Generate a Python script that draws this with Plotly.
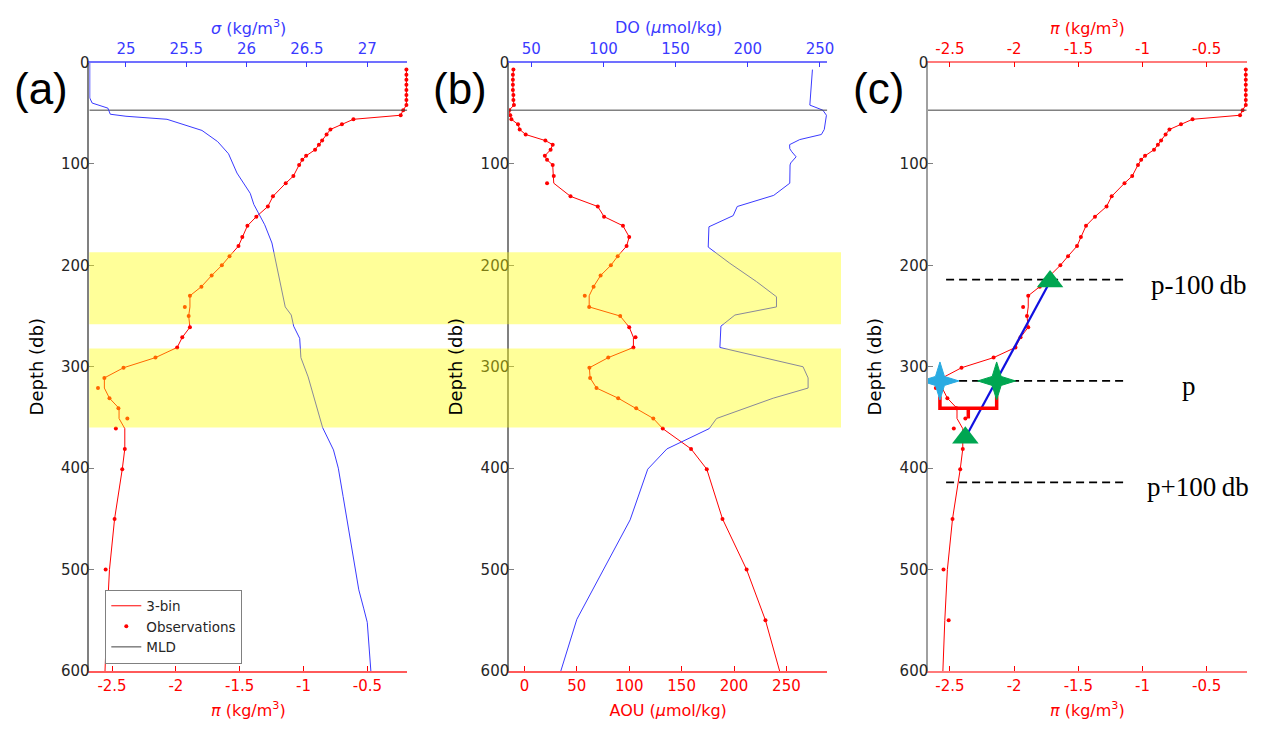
#!/usr/bin/env python3
"""
Three-panel float profile: spiciness/density, AOU/DO, and the p +/- 100 db slope sketch
"""

import plotly.graph_objects as go

# the page body keeps the browser's 8px margin, so the figure is drawn 8px smaller
W, H = 1263, 735
PAD = 8
FW, FH = W - PAD, H - PAD

# shared observation depths (db)
depth = [7, 12, 17, 22, 27, 32, 37, 42, 47, 52, 56, 61, 66, 71, 77, 81, 86, 92, 96, 101,
         112, 119, 132, 142, 152, 161, 172, 181, 191, 200, 210, 221, 230, 241, 250, 261,
         271, 281, 291, 301, 311, 321, 331, 341, 351, 361, 381, 401, 450, 500, 550]

# spiciness pi (kg/m3): observations and 3-bin smoothed line
pi_obs = [-0.195, -0.195, -0.195, -0.195, -0.195, -0.195, -0.195, -0.195, -0.22, -0.24,
          -0.61, -0.70, -0.79, -0.82, -0.855, -0.88, -0.91, -0.98, -1.01, -1.035,
          -1.08, -1.14, -1.24, -1.28, -1.37, -1.44, -1.48, -1.51, -1.58, -1.64,
          -1.72, -1.80, -1.89, -1.93, -1.90, -1.89, -1.95, -1.99, -2.16, -2.41,
          -2.56, -2.61, -2.52, -2.45, -2.38, -2.47, -2.40, -2.42, -2.48, -2.55, -2.51]
depth_line = depth + [600]
pi_line = [-0.195, -0.195, -0.195, -0.195, -0.195, -0.195, -0.195, -0.195, -0.22, -0.24,
           -0.61, -0.70, -0.79, -0.82, -0.855, -0.88, -0.91, -0.98, -1.01, -1.035,
           -1.08, -1.14, -1.24, -1.28, -1.37, -1.44, -1.48, -1.51, -1.58, -1.64,
           -1.72, -1.80, -1.89, -1.89, -1.90, -1.89, -1.95, -1.99, -2.16, -2.41,
           -2.56, -2.56, -2.52, -2.445, -2.445, -2.40, -2.40, -2.42, -2.48, -2.52, -2.54, -2.555]

# potential density anomaly sigma (kg/m3)
sig_depth = [0, 35, 40, 45, 51, 53, 56, 62, 67, 78, 90, 109, 129, 140, 160, 178, 208, 241,
             249, 260, 272, 291, 310, 339, 360, 382, 400, 428, 490, 520, 538, 552, 600]
sig_vals = [24.70, 24.70, 24.72, 24.85, 24.87, 25.00, 25.34, 25.50, 25.63, 25.76, 25.85,
            25.92, 26.03, 26.06, 26.15, 26.21, 26.26, 26.32, 26.37, 26.39, 26.44, 26.45,
            26.51, 26.58, 26.63, 26.72, 26.76, 26.80, 26.885, 26.93, 26.97, 27.00, 27.03]

# AOU (umol/kg): observations and 3-bin line
aou_obs = [-10.5, -11, -11, -11, -11, -10.5, -10.5, -10, -14.5, -13.5,
           -12.4, -6.1, -4.5, 1.2, 20, 27, 25, 19.5, 21.6, 27,
           28, 21.6, 44, 70, 76, 94, 100, 97.5, 89, 82.5,
           72.7, 66, 57.6, 61.8, 91.4, 100, 106, 104, 80, 62,
           62.7, 68.8, 89.5, 106.7, 123, 132, 159, 174, 189, 212, 230]
aou_line = [-10.5, -11, -11, -11, -11, -10.5, -10.5, -10, -14.5, -13.5,
            -12.4, -6.1, -4.5, 1.2, 20, 27, 25, 19.5, 21.6, 27,
            28, 28, 44, 70, 76, 94, 100, 97.5, 89, 82.5,
            72.7, 66, 61.8, 61.8, 91.4, 100, 104, 104, 80, 62,
            62.7, 68.8, 89.5, 106.7, 123, 132, 159, 174, 189, 212, 230, 243.5]

# dissolved oxygen (umol/kg)
do_depth = [7, 37, 42, 47, 52, 66, 71, 76, 81, 85, 88, 93, 99, 101, 119, 131, 136, 142,
            151, 162, 182, 198, 216, 231, 241, 249, 260, 281, 300, 311, 321, 331, 351,
            361, 381, 401, 451, 500, 549, 600]
do_vals = [244.8, 243, 243, 252, 254.5, 253, 251, 236, 229, 229.1, 230.5, 233.5, 229.8,
           229.3, 229.1, 218, 206, 192.7, 189.9, 173.1, 172.6, 187.6, 206, 219.9, 219.9,
           191.1, 181.4, 180.7, 238.3, 241.8, 241.8, 217.6, 178.4, 173.3, 144, 130.7,
           118.5, 100, 81.6, 70.5]

mld = 47
bands = [(187, 258), (282, 360)]

# panel (c) construction
p_depth = 314
p_levels = [p_depth - 100, p_depth, p_depth + 100]
p_labels = ['p-100\u2009db', 'p', 'p+100\u2009db']
p_label_pi = [-0.565, -0.64, -0.565]
p_dash_x = [-2.53, -1.12]
tri_pi = [-1.72, -2.38]
tri_depth = [216, 370]
stars = [(-2.578, p_depth, '#29abe2'), (-2.136, p_depth, '#00a651')]
bracket_pi = [-2.578, -2.578, -2.136, -2.136]
bracket_depth = [329, 341, 341, 329]
bracket_mid_pi = [-2.357, -2.357]
bracket_mid_depth = [341, 351]

# axis ranges and ticks
pi_range_a = [-2.678, -0.188]
sig_range = [24.696, 27.332]
aou_range = [-14.7, 289]
do_range = [34.6, 255.1]
pi_range_c = [-2.671, -0.188]
pi_ticks = [-2.5, -2, -1.5, -1, -0.5]
pi_ticktext = ['-2.5', '-2', '-1.5', '-1', '-0.5']
sig_ticks = [25, 25.5, 26, 26.5, 27]
aou_ticks = [0, 50, 100, 150, 200, 250]
do_ticks = [50, 100, 150, 200, 250]
depth_ticks = [0, 100, 200, 300, 400, 500, 600]

RED = '#ff0000'
BLUE = '#3a3aff'
GREEN = '#00a651'
TICKFONT = dict(family='DejaVu Sans', size=15, color='#262626')


def px(x):
    return (x - PAD) / FW


def py(y):
    return 1 - (y - PAD) / FH


dom_a = [px(89.3), px(407.3)]
dom_b = [px(509), px(827.3)]
dom_c = [px(928), px(1246.7)]
dom_y = [py(671), py(62.5)]

# data units per screen pixel in panel (c), used to shape the 4-point stars
c_dx = (pi_range_c[1] - pi_range_c[0]) / ((dom_c[1] - dom_c[0]) * FW)
c_dy = 600 / ((dom_y[1] - dom_y[0]) * FH)


def star_outline(cx, cy, r_out=19, r_in=4.5):
    xs, ys = [], []
    pts = [(0, -r_out), (r_in, -r_in), (r_out, 0), (r_in, r_in),
           (0, r_out), (-r_in, r_in), (-r_out, 0), (-r_in, -r_in), (0, -r_out)]
    for ux, uy in pts:
        xs.append(cx + ux * c_dx)
        ys.append(cy + uy * c_dy)
    return xs, ys


fig = go.Figure()

# ---- panel (a)
fig.add_trace(go.Scatter(x=pi_line, y=depth_line, mode='lines', name='3-bin',
                         line=dict(color=RED, width=1), xaxis='x', yaxis='y'))
fig.add_trace(go.Scatter(x=pi_obs, y=depth, mode='markers', name='Observations',
                         marker=dict(color=RED, size=4), cliponaxis=False,
                         xaxis='x', yaxis='y'))
fig.add_trace(go.Scatter(x=pi_range_a, y=[mld, mld], mode='lines', name='MLD',
                         line=dict(color='#404040', width=1), xaxis='x', yaxis='y'))
fig.add_trace(go.Scatter(x=sig_vals, y=sig_depth, mode='lines', showlegend=False,
                         line=dict(color=BLUE, width=1), xaxis='x2', yaxis='y'))

# ---- panel (b)
fig.add_trace(go.Scatter(x=aou_line, y=depth_line, mode='lines', showlegend=False,
                         line=dict(color=RED, width=1), xaxis='x3', yaxis='y2'))
fig.add_trace(go.Scatter(x=aou_obs, y=depth, mode='markers', showlegend=False,
                         marker=dict(color=RED, size=4), cliponaxis=False,
                         xaxis='x3', yaxis='y2'))
fig.add_trace(go.Scatter(x=do_vals, y=do_depth, mode='lines', showlegend=False,
                         line=dict(color=BLUE, width=1), xaxis='x4', yaxis='y2'))
fig.add_trace(go.Scatter(x=do_range, y=[mld, mld], mode='lines', showlegend=False,
                         line=dict(color='#404040', width=1), xaxis='x4', yaxis='y2'))

# ---- panel (c)
fig.add_trace(go.Scatter(x=pi_line, y=depth_line, mode='lines', showlegend=False,
                         line=dict(color=RED, width=1), xaxis='x5', yaxis='y3'))
fig.add_trace(go.Scatter(x=pi_obs, y=depth, mode='markers', showlegend=False,
                         marker=dict(color=RED, size=4), cliponaxis=False,
                         xaxis='x5', yaxis='y3'))
fig.add_trace(go.Scatter(x=pi_range_c, y=[mld, mld], mode='lines', showlegend=False,
                         line=dict(color='#404040', width=1), xaxis='x6', yaxis='y3'))
for lev in p_levels:
    fig.add_trace(go.Scatter(x=p_dash_x, y=[lev, lev], mode='lines', showlegend=False,
                             line=dict(color='black', width=1.8, dash='8px,5px'),
                             xaxis='x5', yaxis='y3'))
fig.add_trace(go.Scatter(x=tri_pi, y=tri_depth, mode='lines', showlegend=False,
                         line=dict(color='#1010e0', width=2.2), xaxis='x5', yaxis='y3'))
fig.add_trace(go.Scatter(x=bracket_pi, y=bracket_depth, mode='lines', showlegend=False,
                         line=dict(color=RED, width=3.5), xaxis='x5', yaxis='y3'))
fig.add_trace(go.Scatter(x=bracket_mid_pi, y=bracket_mid_depth, mode='lines', showlegend=False,
                         line=dict(color=RED, width=3.5), xaxis='x5', yaxis='y3'))
fig.add_trace(go.Scatter(x=tri_pi, y=tri_depth, mode='markers', showlegend=False,
                         marker=dict(symbol='triangle-up', size=23, color=GREEN),
                         cliponaxis=False, xaxis='x5', yaxis='y3'))
for sx, sy, scol in stars:
    xs, ys = star_outline(sx, sy)
    fig.add_trace(go.Scatter(x=xs, y=ys, mode='lines', fill='toself', fillcolor=scol,
                             line=dict(color=scol, width=1), showlegend=False,
                             hoverinfo='skip', xaxis='x5', yaxis='y3'))

for lev, lab, lx in zip(p_levels, p_labels, p_label_pi):
    fig.add_annotation(x=lx, y=lev, xref='x5', yref='y3', xanchor='center',
                       text=lab, showarrow=False, yshift=-5,
                       font=dict(family='Liberation Serif', size=27, color='black'))

# yellow highlight bands across (a) and (b)
for y0, y1 in bands:
    fig.add_shape(type='rect', xref='paper', yref='y', x0=px(89.3), x1=px(841),
                  y0=y0, y1=y1, fillcolor='yellow', opacity=0.4, line=dict(width=0),
                  layer='above')

# panel letters
for lab, xc in [('(a)', 41), ('(b)', 460), ('(c)', 878)]:
    fig.add_annotation(x=px(xc), y=py(88), xref='paper', yref='paper', text=lab,
                       xanchor='center', yanchor='middle', showarrow=False,
                       font=dict(family='Liberation Sans', size=44, color='black'))

# top-axis titles, placed by hand to sit close to the tick labels
pi_title = '<i>\u03c0</i> (kg/m<sup>3</sup>)'
top_titles = [(dom_a, '<i>\u03c3</i> (kg/m<sup>3</sup>)', BLUE),
              (dom_b, 'DO (<i>\u03bc</i>mol/kg)', BLUE),
              (dom_c, pi_title, RED)]
for dom, txt, col in top_titles:
    fig.add_annotation(x=(dom[0] + dom[1]) / 2, y=py(27), xref='paper', yref='paper',
                       text=txt, xanchor='center', yanchor='middle', showarrow=False,
                       font=dict(family='DejaVu Sans', size=16, color=col))


def xaxis(domain, rng, ticks, ticktext, color, linecolor, title, side='bottom',
          anchor='y', overlaying=None):
    top = side == 'top'
    d = dict(range=rng, tickvals=ticks, ticktext=ticktext, ticks='inside', ticklen=5,
             tickcolor=color, tickfont=dict(family='DejaVu Sans', size=15, color=color),
             showline=True, linecolor=linecolor, linewidth=1.5, showgrid=False,
             zeroline=False, side=side, anchor=anchor,
             ticklabelstandoff=1 if top else 0, automargin=False)
    if not top:
        d['title'] = dict(text=title, standoff=11,
                          font=dict(family='DejaVu Sans', size=16, color=color))
    if overlaying:
        d['overlaying'] = overlaying
    else:
        d['domain'] = domain
    return d


def yaxis(anchor, linecolor='#808080'):
    return dict(domain=dom_y, range=[600, 0], tickvals=depth_ticks,
                ticks='inside', ticklen=5, tickcolor='#808080', tickfont=TICKFONT,
                showline=True, linecolor=linecolor, linewidth=1.5, showgrid=False,
                zeroline=False, anchor=anchor, automargin=False, ticklabelstandoff=-5,
                title=dict(text='Depth (db)', font=dict(family='DejaVu Sans', size=18,
                                                        color='black'), standoff=13))


fig.update_layout(
    width=FW, height=FH,
    margin=dict(l=0, r=0, t=0, b=0, autoexpand=False),
    plot_bgcolor='white', paper_bgcolor='white',
    xaxis=xaxis(dom_a, pi_range_a, pi_ticks, pi_ticktext, RED, '#ff5a5a', pi_title),
    xaxis2=xaxis(None, sig_range, sig_ticks, [str(t) for t in sig_ticks], BLUE, '#7070ff',
                 None, side='top', anchor='y', overlaying='x'),
    xaxis3=xaxis(dom_b, aou_range, aou_ticks, [str(t) for t in aou_ticks], RED, '#ff5a5a',
                 'AOU (<i>\u03bc</i>mol/kg)', anchor='y2'),
    xaxis4=xaxis(None, do_range, do_ticks, [str(t) for t in do_ticks], BLUE, '#7070ff',
                 None, side='top', anchor='y2', overlaying='x3'),
    xaxis5=xaxis(dom_c, pi_range_c, pi_ticks, pi_ticktext, RED, '#ff7a7a', pi_title, anchor='y3'),
    xaxis6=xaxis(None, pi_range_c, pi_ticks, pi_ticktext, RED, '#ff7a7a', None,
                 side='top', anchor='y3', overlaying='x5'),
    yaxis=yaxis('x'),
    yaxis2=yaxis('x3'),
    yaxis3=yaxis('x5', linecolor='#a0a0a0'),
    legend=dict(x=px(105.3), y=py(626.5), xanchor='left', yanchor='middle',
                bgcolor='white', bordercolor='#808080', borderwidth=1,
                font=dict(family='DejaVu Sans', size=13.5, color='#262626'),
                tracegroupgap=0),
    showlegend=True,
)

fig.write_html('out.html')
